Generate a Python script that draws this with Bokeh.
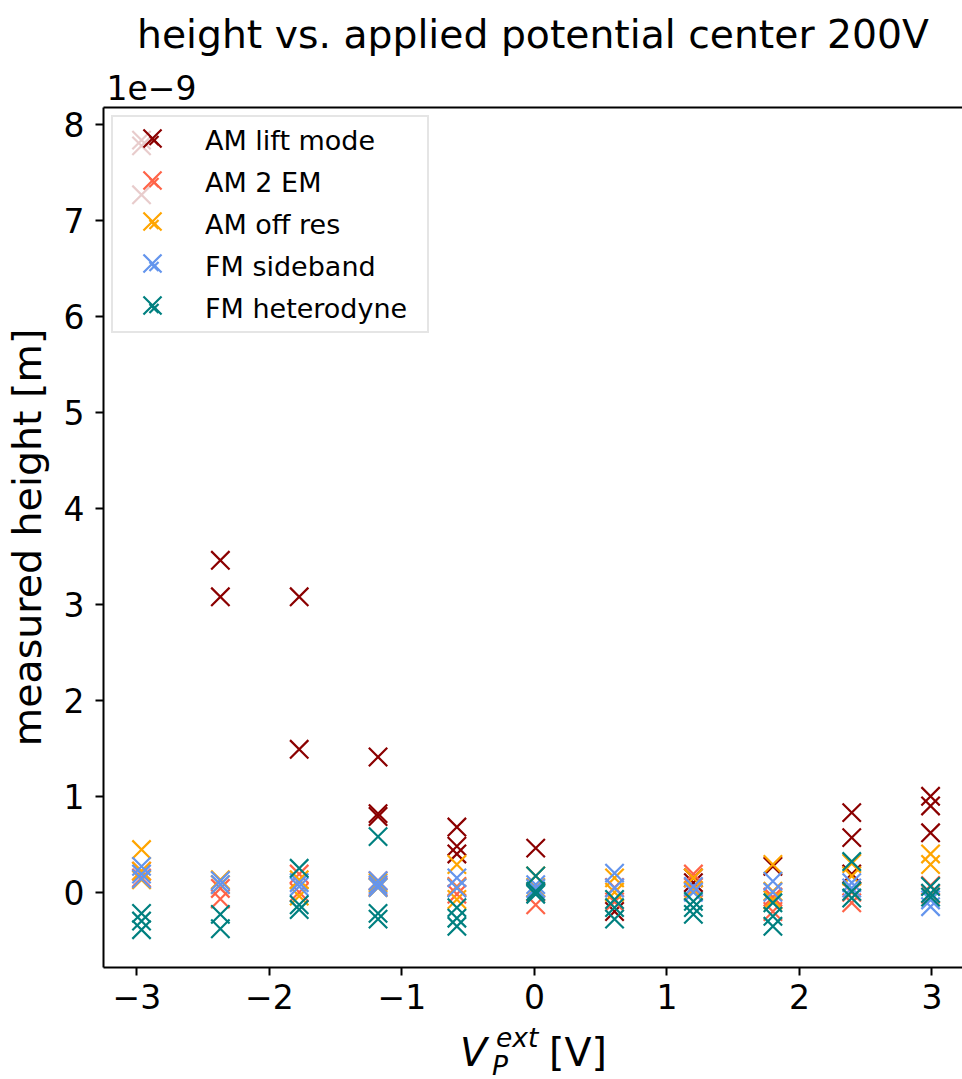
from bokeh.plotting import figure
from bokeh.models import Range1d, FixedTicker, LinearAxis, Title, Div, Legend, LegendItem
from bokeh.core.properties import value
from bokeh.layouts import column
from bokeh.embed import file_html
from bokeh.resources import INLINE

# applied potential levels (V)
x_levels = [-2.965, -2.37, -1.775, -1.18, -0.585, 0.01, 0.605, 1.2, 1.8, 2.395, 2.99]

# measured heights in units of 1e-9 m, one list per potential level
am_lift_mode = [[7.84, 7.78, 7.27], [3.46, 3.08], [3.08, 1.49], [1.41, 0.82, 0.79],
                [0.68, 0.48, 0.40], [0.46], [-0.20], [0.15, 0.10], [0.27],
                [0.83, 0.57, 0.19], [1.00, 0.90, 0.62]]
am_2_em = [[0.22, 0.15], [0.04, -0.07], [0.19, 0.0], [0.12, 0.06], [0.06, -0.02],
           [-0.13, 0.0], [-0.10, 0.05], [0.19, 0.05], [-0.20, -0.05], [-0.11, 0.0],
           [0.07, -0.02]]
am_off_res = [[0.445, 0.22, 0.13], [0.13, 0.08], [0.13, -0.04], [0.05, 0.10],
              [0.29, -0.075, 0.05], [0.17, 0.05], [0.15, 0.0], [0.15, 0.02],
              [0.29, 0.01, -0.08], [0.30, 0.17], [0.40, 0.29]]
fm_sideband = [[0.27, 0.19, 0.14], [0.12, 0.08], [0.06, 0.10], [0.12, 0.08, 0.05],
               [0.15, 0.045], [0.08, 0.04], [0.20, 0.045], [0.06, 0.0], [0.115, 0.0],
               [0.045, 0.10], [-0.15, -0.08]]
fm_heterodyne = [[-0.22, -0.30, -0.39], [-0.23, -0.38], [0.25, -0.13, -0.18],
                 [0.58, -0.22, -0.28], [-0.16, -0.27, -0.355], [0.17, -0.02, 0.01],
                 [-0.075, -0.16, -0.28], [-0.095, -0.16, -0.23], [-0.11, -0.25, -0.355],
                 [0.32, 0.01, -0.06], [0.06, -0.01, -0.05]]

series_names = ["AM lift mode", "AM 2 EM", "AM off res", "FM sideband", "FM heterodyne"]
series_data = [am_lift_mode, am_2_em, am_off_res, fm_sideband, fm_heterodyne]
series_colors = ["#8b0000", "#ff6347", "#ffa500", "#6495ed", "#008080"]

x_ticks = [-3, -2, -1, 0, 1, 2, 3]
x_tick_labels = ["\u22123", "\u22122", "\u22121", "0", "1", "2", "3"]
y_ticks = [0, 1, 2, 3, 4, 5, 6, 7, 8]

FONT = "DejaVu Sans"
MARKER_SIZE = 26

p = figure(frame_width=859, frame_height=860,
           min_border_left=103, min_border_right=0, min_border_top=107, min_border_bottom=57,
           x_range=Range1d(-3.252, 3.231), y_range=Range1d(-0.784, 8.18),
           output_backend="svg", toolbar_location=None,
           title="height vs. applied potential center 200V")
p.title.text_font = FONT
p.title.text_font_size = "39.3px"
p.title.text_font_style = "normal"
p.title.text_color = "black"
p.title.align = "center"
p.title.standoff = 15
p.outline_line_color = None
p.grid.visible = False
p.background_fill_color = "white"
p.border_fill_color = "white"

renderers = []
for name, data, color in zip(series_names, series_data, series_colors):
    xs, ys = [], []
    for xv, vals in zip(x_levels, data):
        for v in vals:
            xs.append(xv)
            ys.append(v)
    r = p.scatter(xs, ys, marker="x", size=MARKER_SIZE, line_color=color, line_width=2.2,
                  legend_label=name)
    renderers.append(r)

def style_axis(ax):
    ax.axis_line_width = 2
    ax.axis_line_color = "black"
    ax.major_tick_line_width = 2
    ax.major_tick_out = 8
    ax.major_tick_in = 0
    ax.minor_tick_line_color = None
    ax.major_label_text_font = FONT
    ax.major_label_text_font_size = "33px"
    ax.major_label_text_color = "black"

style_axis(p.xaxis[0])
style_axis(p.yaxis[0])
p.xaxis.ticker = FixedTicker(ticks=x_ticks)
p.xaxis.major_label_overrides = {t: s for t, s in zip(x_ticks, x_tick_labels)}
p.xaxis.major_label_standoff = 8
p.yaxis.ticker = FixedTicker(ticks=y_ticks)
p.yaxis.major_label_standoff = 11
p.yaxis.axis_label = "measured height [m]"
p.yaxis.axis_label_text_font = FONT
p.yaxis.axis_label_text_font_size = "39.5px"
p.yaxis.axis_label_text_font_style = "normal"
p.yaxis.axis_label_text_color = "black"
p.yaxis.axis_label_standoff = 11

top_axis = LinearAxis(ticker=FixedTicker(ticks=[]), axis_line_width=2,
                      major_tick_line_color=None, minor_tick_line_color=None,
                      major_tick_out=0, major_tick_in=0, major_label_standoff=0,
                      axis_label_standoff=0)
p.add_layout(top_axis, "above")

# scientific offset text of the y axis
offset_title = Title(text="1e\u22129", align="left", offset=3, standoff=16,
                     text_font=FONT, text_font_size="33px", text_font_style="normal",
                     text_color="black")
p.add_layout(offset_title, "above")

# main legend: box and labels
leg = p.legend[0]
leg.location = "top_left"
leg.margin = 8
leg.padding = 7
leg.spacing = 10
leg.glyph_width = 67
leg.glyph_height = 32
leg.label_height = 32
leg.label_width = 215
leg.label_standoff = 18
leg.label_text_font = FONT
leg.label_text_font_size = "27px"
leg.label_text_color = "black"
leg.border_line_color = "#cccccc"
leg.border_line_width = 2
leg.background_fill_alpha = 0.8

# full-size legend markers drawn over the legend rows
ROW_PITCH = 41.7
for i, r in enumerate(renderers):
    over = Legend(items=[LegendItem(label=value(" "), renderers=[r])],
                  location=(17, 797 - ROW_PITCH * i),
                  glyph_width=64, glyph_height=64, label_width=0, label_height=64,
                  label_standoff=0, padding=0, margin=0, spacing=0,
                  border_line_color=None, background_fill_color=None,
                  label_text_font_size="1px")
    p.add_layout(over)

# x-axis label V_P^ext [V] (mathtext layout rebuilt with real text)
xlabel_html = (
    '<div style="position:relative;width:962px;height:55px;'
    'font-family:\'DejaVu Sans\';color:black;">'
    '<span style="position:absolute;left:460px;top:9px;font-size:39.5px;'
    'line-height:39.5px;font-style:italic;">V</span>'
    '<span style="position:absolute;left:492px;top:30px;font-size:26.5px;'
    'line-height:23px;font-style:italic;">P</span>'
    '<span style="position:absolute;left:496px;top:2px;font-size:26.5px;'
    'line-height:23px;font-style:italic;">ext</span>'
    '<span style="position:absolute;left:549px;top:9px;font-size:39.5px;'
    'line-height:39.5px;">[V]</span>'
    '</div>'
)
xlabel = Div(text=xlabel_html, width=962, height=55, margin=0)

layout = column(p, xlabel, spacing=0)

open("out.html", "w").write(file_html(layout, INLINE))
